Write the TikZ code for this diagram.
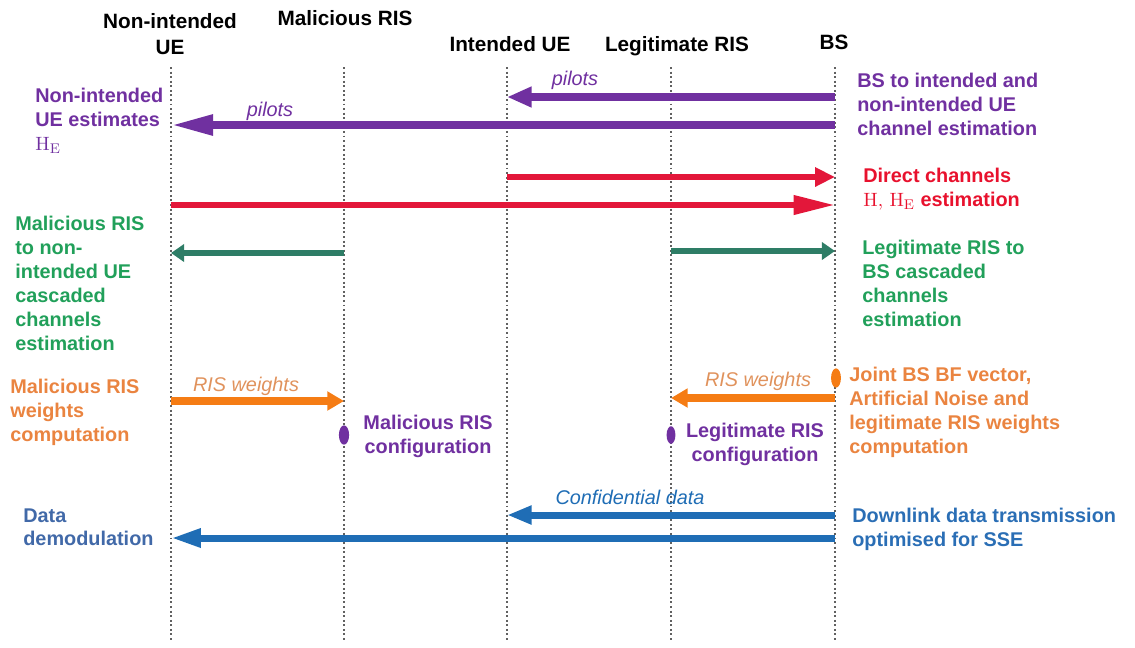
\documentclass[tikz,border=0pt]{standalone}
\usepackage[no-math]{fontspec}
\setmainfont{Liberation Sans}
\usetikzlibrary{arrows.meta,shapes.geometric}

\definecolor{cpurple}{HTML}{7030A0}
\definecolor{cred}{HTML}{E3173A}
\definecolor{credtxt}{HTML}{E8112D}
\definecolor{cgreen}{HTML}{2E7D66}
\definecolor{cgreentxt}{HTML}{21A05A}
\definecolor{corange}{HTML}{F57C14}
\definecolor{corangetxt}{HTML}{EA8440}
\definecolor{corangelbl}{HTML}{E0925C}
\definecolor{cblue}{HTML}{1F6DB5}
\definecolor{cbluetxt}{HTML}{2A6EB5}
\definecolor{cbluelft}{HTML}{4169A8}

\begin{document}
\begin{tikzpicture}[x=0.02cm, y=-0.02cm,
  lifeline/.style={draw=black!62, line width=1.2pt, dash pattern=on 1.1pt off 1.5pt},
  head/.style={font=\fontsize{11.8}{14.8}\selectfont\bfseries, align=center, inner sep=0pt},
  lbl/.style={font=\fontsize{11.3}{13.6}\selectfont\bfseries, align=left, inner sep=0pt, anchor=north west},
  clbl/.style={lbl, align=center, anchor=north},
  albl/.style={font=\fontsize{11.3}{13.6}\selectfont\itshape, inner sep=0pt},
  pmsg/.style={draw=cpurple, line width=4.4pt, -{Triangle[length=#1,width=11pt]}},
  rmsg/.style={draw=cred, line width=3.4pt, -{Triangle[length=#1,width=10.4pt]}},
  gmsg/.style={draw=cgreen, line width=3.1pt, -{Triangle[length=7.5pt,width=9.8pt]}},
  omsg/.style={draw=corange, line width=4pt, -{Triangle[length=9.5pt,width=10.4pt]}},
  bmsg/.style={draw=cblue, line width=4pt, -{Triangle[length=#1,width=10pt]}},
  evdot/.style={shape=ellipse, inner sep=0pt, draw=none}
]
\useasboundingbox (0,0) rectangle (1135,647);

% lifeline positions
\coordinate (NU) at (171,0);
\coordinate (MR) at (344,0);
\coordinate (IU) at (507,0);
\coordinate (LR) at (671,0);
\coordinate (BS) at (835,0);
\coordinate (top) at (0,67);
\coordinate (bot) at (0,641);

% participant headings
\node[head] (hNU) at (170,34) {Non-intended\\UE};
\node[head] (hMR) at (345,18) {Malicious RIS};
\node[head] (hIU) at (510,44) {Intended UE};
\node[head] (hLR) at (677,46) {Legitimate RIS};
\node[head] (hBS) at (834,42) {BS};

% lifelines
\foreach \p in {NU,MR,IU,LR,BS}
  \draw[lifeline] (\p |- top) -- (\p |- bot);

% message rows
\coordinate (r1) at (0,97);
\coordinate (r2) at (0,125);
\coordinate (r3) at (0,177);
\coordinate (r4) at (0,205);
\coordinate (r5) at (0,253);
\coordinate (r6) at (0,251);
\coordinate (r7) at (0,401);
\coordinate (r8) at (0,398);
\coordinate (r9) at (0,515);
\coordinate (r10) at (0,538);

% pilots from the BS
\draw[pmsg=14pt] (BS |- r1) -- (IU |- r1);
\draw[pmsg=24pt] (BS |- r2) -- (NU |- r2);
\node[albl, text=cpurple] (lp1) at (575,80) {pilots};
\node[albl, text=cpurple] (lp2) at (270,111) {pilots};

% direct channel estimation
\draw[rmsg=11.3pt] (IU |- r3) -- (BS |- r3);
\draw[rmsg=23.5pt] (NU |- r4) -- (BS |- r4);

% cascaded channel estimation
\draw[gmsg] (MR |- r5) -- (NU |- r5);
\draw[gmsg] (LR |- r6) -- (BS |- r6);

% RIS weights
\draw[omsg] (NU |- r7) -- (MR |- r7);
\draw[omsg] (BS |- r8) -- (LR |- r8);
\node[albl, text=corangelbl] (lw1) at (246,386) {RIS weights};
\node[albl, text=corangelbl] (lw2) at (758,381) {RIS weights};

% events on the lifelines
\node[evdot, fill=corange, minimum width=5.6pt, minimum height=11pt] (eBS) at (836,378) {};
\node[evdot, fill=cpurple, minimum width=5.8pt, minimum height=11pt] (eMR) at (344,435) {};
\node[evdot, fill=cpurple, minimum width=5pt, minimum height=10pt] (eLR) at (671,435) {};

% data transmission
\draw[bmsg=14pt] (BS |- r9) -- (IU |- r9);
\draw[bmsg=17pt] (BS |- r10) -- (NU |- r10);
\node[albl, text=cblue] (lcd) at (630,497) {Confidential data};

% descriptions, left side
\node[lbl, text=cpurple] (dNU) at (35,88) {Non-intended\\UE estimates\\$\mathrm{H}_{\mathrm{E}}$};
\node[lbl, text=cgreentxt] (dMRc) at (15,216) {Malicious RIS\\to non-\\intended UE\\cascaded\\channels\\estimation};
\node[lbl, text=corangetxt] (dMRw) at (10,379) {Malicious RIS\\weights\\computation};
\node[lbl, text=cbluelft] (dDem) at (23,508) {Data\\demodulation};

% descriptions, right side
\node[lbl, text=cpurple] (dBSp) at (857,73) {BS to intended and\\non-intended UE\\channel estimation};
\node[lbl, text=credtxt] (dBSd) at (863,168) {Direct channels\\$\mathrm{H},\,\mathrm{H}_{\mathrm{E}}$ estimation};
\node[lbl, text=cgreentxt] (dBSc) at (862,240) {Legitimate RIS to\\BS cascaded\\channels\\estimation};
\node[lbl, text=corangetxt] (dBSw) at (849,367) {Joint BS BF vector,\\Artificial Noise and\\legitimate RIS weights\\computation};
\node[lbl, text=cbluetxt] (dBSt) at (852,508) {Downlink data transmission\\optimised for SSE};

% RIS configuration
\node[clbl, text=cpurple] (cMR) at (428,415) {Malicious RIS\\configuration};
\node[clbl, text=cpurple] (cLR) at (755,423) {Legitimate RIS\\configuration};
\end{tikzpicture}
\end{document}
